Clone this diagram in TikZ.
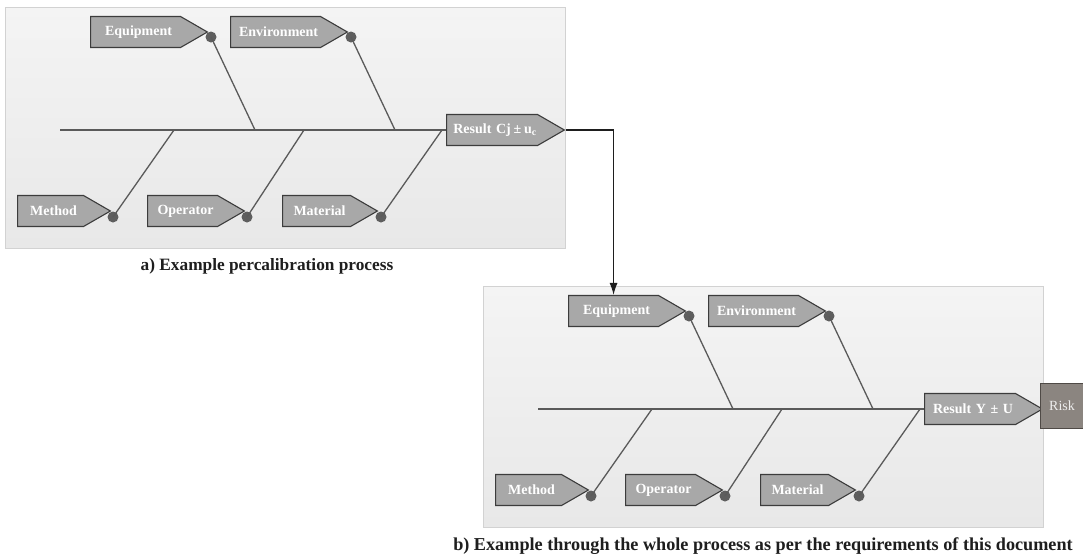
\documentclass[tikz,border=0pt]{standalone}
\usepackage{fontspec}
\setmainfont{Liberation Serif}
\usetikzlibrary{shapes.symbols,arrows.meta}
\definecolor{boxfill}{HTML}{A8A8A8}
\definecolor{boxdraw}{HTML}{3C3C3C}
\definecolor{bonec}{HTML}{5A5A5A}
\definecolor{dotc}{HTML}{5E5E5E}
\definecolor{paneltop}{HTML}{F4F4F4}
\definecolor{panelbot}{HTML}{E8E8E8}
\definecolor{panelbd}{HTML}{D2D2D2}
\definecolor{riskfill}{HTML}{8B8580}
\definecolor{riskdraw}{HTML}{4F4A46}
\definecolor{risktext}{HTML}{EDEDED}
\definecolor{capc}{HTML}{1E1E1E}
\newcommand\fishbone[4]{%
\begin{scope}[shift={(#2,#3)}]
  \path[panel] (5,7) rectangle (565,248);
  \node[lbl,text width=90pt] (#1-eq) at (90,32) {\hspace*{6pt}Equipment};
  \node[lbl,text width=90pt] (#1-en) at (230,32) {\hspace*{6pt}Environment};
  \node[lbl,text width=66pt] (#1-me) at (17,211) {\hspace*{6pt}Method};
  \node[lbl,text width=70pt] (#1-op) at (147,211) {\hspace*{6pt}Operator};
  \node[lbl,text width=68pt] (#1-ma) at (282,211) {\hspace*{6pt}Material};
  \node[lbl,text width=91pt] (#1-res) at (446,130) {\makebox[\linewidth]{\hspace*{6pt}#4}};
  \coordinate (#1-s0) at (60,130);
  \coordinate (#1-j1) at (255,130);
  \coordinate (#1-j2) at (395,130);
  \coordinate (#1-j3) at (174,130);
  \coordinate (#1-j4) at (304,130);
  \coordinate (#1-j5) at (442,130);
  \draw[spine] (#1-s0) -- (#1-res.west);
  \node[dot] (#1-deq) at (211,37) {};
  \node[dot] (#1-den) at (351,37) {};
  \node[dot] (#1-dme) at (113,217) {};
  \node[dot] (#1-dop) at (247,217) {};
  \node[dot] (#1-dma) at (381,217) {};
  \draw[bone] (#1-deq.center) -- (#1-j1);
  \draw[bone] (#1-den.center) -- (#1-j2);
  \draw[bone] (#1-dme.center) -- (#1-j3);
  \draw[bone] (#1-dop.center) -- (#1-j4);
  \draw[bone] (#1-dma.center) -- (#1-j5);
\end{scope}}
\begin{document}
\begin{tikzpicture}[x=1pt,y=-1pt,
  panel/.style={draw=panelbd,line width=1pt,top color=paneltop,bottom color=panelbot},
  lbl/.style={shape=signal,signal to=east,signal pointer angle=60,draw=boxdraw,fill=boxfill,
    line width=1.1pt,text=white,font=\fontsize{14}{16}\selectfont\bfseries,
    inner xsep=0pt,inner ysep=0pt,minimum height=31pt,align=center,anchor=west},
  dot/.style={circle,fill=dotc,inner sep=0pt,minimum size=11pt},
  spine/.style={draw=bonec,line width=1.5pt},
  bone/.style={draw=bonec,line width=1.3pt},
  flow/.style={draw=capc,line width=1.2pt,-{Latex[length=12pt,width=8pt]}},
  caption/.style={text=capc,font=\bfseries,inner sep=0pt},
  risk/.style={draw=riskdraw,fill=riskfill,line width=1pt,text=risktext,
    font=\fontsize{14}{16}\selectfont,minimum width=50pt,minimum height=45pt,anchor=west}]
\useasboundingbox[fill=white] (0,0) rectangle (1083,558);
\fishbone{a}{0}{0}{Result Cj\hspace{0.2em}±\hspace{0.2em}u\textsubscript{c}}
\fishbone{b}{478}{279}{Result Y ± U}
\node[risk] (risk) at (1040,406) {\hspace*{-7pt}Risk};
\draw[flow] (a-res.east) -| (b-eq.north);
\node[caption,font=\fontsize{17.3}{19}\selectfont\bfseries] (capa) at (267,266) {a) Example percalibration process};
\node[caption,font=\fontsize{18.2}{20}\selectfont\bfseries] (capb) at (763,546) {b) Example through the whole process as per the requirements of this document};
\end{tikzpicture}
\end{document}
